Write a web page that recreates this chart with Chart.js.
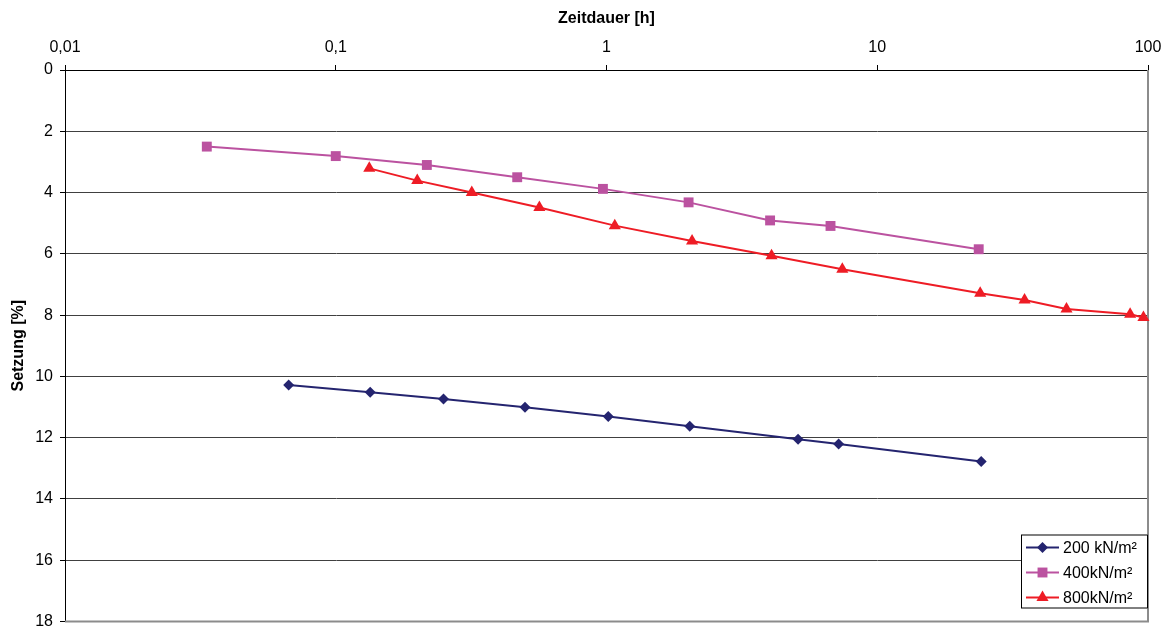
<!DOCTYPE html>
<html>
<head>
  <meta charset="utf-8"/>
  <script src="https://cdn.jsdelivr.net/npm/chart.js"></script>
  <style>
    html, body { margin: 0; padding: 0; background: #ffffff; }
    #wrap { width: 1168px; height: 630px; }
  </style>
</head>
<body>
<div id="wrap"><canvas id="myChart" width="1168" height="630"></canvas></div>

<script>
// Setzung über Zeitdauer, drei Laststufen
const seriesLabels = ["200 kN/m²", "400kN/m²", "800kN/m²"];

const time200 = [0.067, 0.134, 0.25, 0.5, 1.015, 2.03, 5.1, 7.2, 24.2];
const sett200 = [10.28, 10.52, 10.74, 11.01, 11.31, 11.63, 12.05, 12.21, 12.78];

const time400 = [0.0334, 0.1, 0.217, 0.468, 0.97, 2.01, 4.02, 6.72, 23.7];
const sett400 = [2.50, 2.81, 3.10, 3.50, 3.88, 4.32, 4.91, 5.09, 5.85];

const time800 = [0.133, 0.2, 0.318, 0.565, 1.073, 2.07, 4.07, 7.43, 24.0, 35.0, 50.0, 85.9, 96.2];
const sett800 = [3.21, 3.61, 4.00, 4.49, 5.08, 5.58, 6.06, 6.50, 7.29, 7.51, 7.80, 7.97, 8.08];

const xTicks = [0.01, 0.1, 1, 10, 100];
const xTickLabels = ["0,01", "0,1", "1", "10", "100"];

const colors = ["#24246f", "#bb52a0", "#ee1c25"];
const markers = ["rectRot", "rect", "triangle"];
const markerSizes = [5.5, 7, 7];

function toPoints(xs, ys) {
  return xs.map((x, i) => ({ x: x, y: ys[i] }));
}

const FONT = "'Liberation Sans', Arial, sans-serif";

// grey frame on the right and bottom of the plot area
const plotFrame = {
  id: 'plotFrame',
  beforeDatasetsDraw(chart) {
    const { ctx, chartArea: a } = chart;
    ctx.save();
    ctx.strokeStyle = '#8c8c8c';
    ctx.lineWidth = 2;
    ctx.beginPath();
    ctx.moveTo(a.right, a.top);
    ctx.lineTo(a.right, a.bottom);
    ctx.lineTo(a.left, a.bottom);
    ctx.stroke();
    ctx.restore();
  }
};

// boxed legend in the lower right corner
const boxLegend = {
  id: 'boxLegend',
  afterDatasetsDraw(chart) {
    const { ctx, chartArea: a } = chart;
    const w = 127, h = 74;
    const x0 = a.right - w, y0 = a.bottom - h - 13;
    ctx.save();
    ctx.fillStyle = '#ffffff';
    ctx.fillRect(x0, y0, w, h);
    ctx.strokeStyle = '#000000';
    ctx.lineWidth = 1;
    ctx.strokeRect(x0 + 0.5, y0 + 0.5, w - 1, h - 1);
    ctx.font = '16px ' + FONT;
    ctx.textBaseline = 'middle';
    chart.data.datasets.forEach((ds, i) => {
      const y = y0 + 13 + i * 25;
      ctx.strokeStyle = ds.borderColor;
      ctx.lineWidth = 2;
      ctx.beginPath();
      ctx.moveTo(x0 + 5, y);
      ctx.lineTo(x0 + 38, y);
      ctx.stroke();
      ctx.fillStyle = ds.pointBackgroundColor;
      Chart.helpers.drawPoint(ctx, {
        pointStyle: ds.pointStyle,
        radius: ds.pointRadius,
        borderWidth: 0
      }, x0 + 21.5, y);
      ctx.fillStyle = '#000000';
      ctx.fillText(ds.label, x0 + 42, y + 1);
    });
    ctx.restore();
  }
};

const datasets = [
  toPoints(time200, sett200),
  toPoints(time400, sett400),
  toPoints(time800, sett800)
].map((pts, i) => ({
  label: seriesLabels[i],
  data: pts,
  borderColor: colors[i],
  backgroundColor: colors[i],
  pointBackgroundColor: colors[i],
  pointBorderColor: colors[i],
  pointBorderWidth: 0,
  pointStyle: markers[i],
  pointRadius: markerSizes[i],
  borderWidth: 2,
  tension: 0,
  clip: false
}));

const ctx = document.getElementById('myChart').getContext('2d');

new Chart(ctx, {
  type: 'line',
  data: { datasets: datasets },
  options: {
    responsive: false,
    animation: false,
    layout: { padding: { left: 0, top: 0, right: 20, bottom: 8.5 } },
    plugins: {
      legend: { display: false },
      tooltip: { enabled: false }
    },
    scales: {
      x: {
        type: 'logarithmic',
        position: 'top',
        min: 0.01,
        max: 100,
        afterBuildTicks(scale) {
          scale.ticks = xTicks.map(v => ({ value: v }));
        },
        afterFit(scale) {
          scale.height = 70;
          scale.paddingLeft = 0;
          scale.paddingRight = 0;
        },
        ticks: {
          color: '#000000',
          font: { family: FONT, size: 16 },
          padding: 7.5,
          maxRotation: 0,
          autoSkip: false,
          callback: (v) => xTickLabels[xTicks.indexOf(v)] ?? ''
        },
        grid: {
          drawOnChartArea: false,
          drawTicks: true,
          tickLength: 5,
          color: '#000000'
        },
        border: { display: true, color: '#000000', width: 1 },
        title: {
          display: true,
          text: 'Zeitdauer [h]',
          color: '#000000',
          font: { family: FONT, size: 16, weight: 'bold' },
          padding: { top: 9, bottom: 0 }
        }
      },
      y: {
        type: 'linear',
        reverse: true,
        min: 0,
        max: 18,
        afterFit(scale) {
          scale.width = 65;
          scale.paddingTop = 0;
          scale.paddingBottom = 0;
        },
        ticks: {
          stepSize: 2,
          color: '#000000',
          font: { family: FONT, size: 16 },
          padding: 7
        },
        grid: {
          color: (c) => (c.tick && c.tick.value === 18) ? 'rgba(0,0,0,0)' : '#404040',
          tickColor: '#000000',
          tickLength: 5,
          lineWidth: 1
        },
        border: { display: true, color: '#000000', width: 1 },
        title: {
          display: true,
          text: 'Setzung [%]',
          color: '#000000',
          font: { family: FONT, size: 16, weight: 'bold' },
          padding: { top: 9, bottom: 0 }
        }
      }
    }
  },
  plugins: [plotFrame, boxLegend]
});
</script>
</body>
</html>
